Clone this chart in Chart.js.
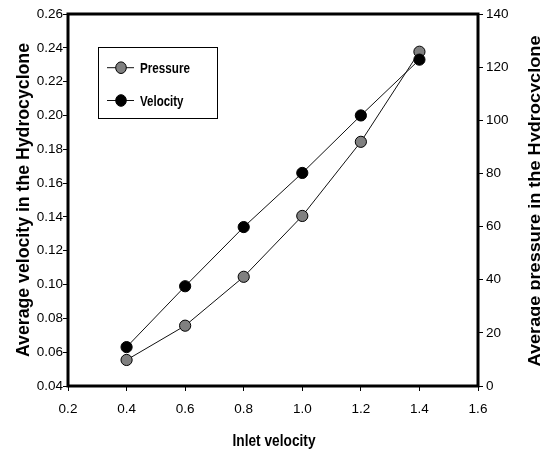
<!DOCTYPE html>
<html><head><meta charset="utf-8">
<script src="https://cdn.jsdelivr.net/npm/chart.js@4"></script>
<style>html,body{margin:0;padding:0;background:#fff}#wrap{width:540px;height:452px}</style>
</head><body><div id="wrap"><canvas id="c" width="540" height="452"></canvas></div>
<script>
const inletVelocity = [0.4, 0.6, 0.8, 1.0, 1.2, 1.4];
const pressureValues = [9.8, 22.7, 41.1, 64.0, 91.9, 125.8];
const velocityValues = [0.063, 0.099, 0.134, 0.166, 0.200, 0.233];
const seriesNames = ['Pressure', 'Velocity'];
const xTitle = 'Inlet velocity';
const leftTitle = 'Average velocity in the Hydrocyclone';
const rightTitle = 'Average pressure in the Hydrocyclone';

const FONT = '"Liberation Sans", Arial, sans-serif';

function pts(xs, ys) { return xs.map((x, i) => ({ x: x, y: ys[i] })); }

function drawScaledText(ctx, text, x, y, size, targetW, align) {
  ctx.save();
  ctx.font = 'bold ' + size + 'px ' + FONT;
  const w = ctx.measureText(text).width;
  const sx = targetW ? targetW / w : 1;
  ctx.translate(x, y);
  ctx.scale(sx, 1);
  ctx.textAlign = align || 'left';
  ctx.textBaseline = 'alphabetic';
  ctx.fillStyle = '#000';
  ctx.fillText(text, 0, 0);
  ctx.restore();
}

const decor = {
  id: 'decor',
  afterDraw(chart) {
    const ctx = chart.ctx;
    const a = chart.chartArea;
    ctx.save();
    ctx.strokeStyle = '#000';
    ctx.lineWidth = 3;
    ctx.strokeRect(a.left, a.top, a.right - a.left, a.bottom - a.top);
    ctx.restore();
    const cy = (a.top + a.bottom) / 2;
    drawScaledText(ctx, xTitle, (a.left + a.right) / 2 + 1, 445.5, 17, 83, 'center');
    ctx.save();
    ctx.translate(28.5, cy);
    ctx.rotate(-Math.PI / 2);
    drawScaledText(ctx, leftTitle, 0, 0, 18, 314, 'center');
    ctx.restore();
    ctx.save();
    ctx.translate(539.5, cy + 1);
    ctx.rotate(-Math.PI / 2);
    drawScaledText(ctx, rightTitle, 0, 0, 16.5, 331, 'center');
    ctx.restore();
    ctx.save();
    ctx.strokeStyle = '#000';
    ctx.lineWidth = 1;
    ctx.strokeRect(98.5, 47.5, 119, 71);
    const rows = [67.7, 100.5];
    chart.data.datasets.forEach((ds, i) => {
      const y = rows[i];
      ctx.beginPath();
      ctx.moveTo(107, y); ctx.lineTo(134, y);
      ctx.strokeStyle = ds.borderColor; ctx.lineWidth = 1; ctx.stroke();
      ctx.beginPath();
      ctx.ellipse(121, y, 5.3, 5.8, 0, 0, Math.PI * 2);
      ctx.fillStyle = ds.pointBackgroundColor; ctx.fill();
      ctx.strokeStyle = ds.pointBorderColor; ctx.stroke();
      drawScaledText(ctx, ds.label, 140, y + 5, 15, i === 0 ? 50 : 43.5, 'left');
    });
    ctx.restore();
  }
};

const tickFont = { family: FONT, size: 13.5 };

new Chart(document.getElementById('c'), {
  type: 'line',
  data: {
    datasets: [
      {
        label: seriesNames[0],
        data: pts(inletVelocity, pressureValues),
        yAxisID: 'y1',
        borderColor: '#111',
        borderWidth: 1,
        pointBackgroundColor: '#808080',
        pointBorderColor: '#000',
        pointBorderWidth: 1,
        pointRadius: 5.6,
        tension: 0,
        order: 1
      },
      {
        label: seriesNames[1],
        data: pts(inletVelocity, velocityValues),
        yAxisID: 'y',
        borderColor: '#111',
        borderWidth: 1,
        pointBackgroundColor: '#000',
        pointBorderColor: '#000',
        pointBorderWidth: 1,
        pointRadius: 5.6,
        tension: 0,
        order: 0
      }
    ]
  },
  options: {
    responsive: false,
    animation: false,
    devicePixelRatio: 1,
    layout: { padding: { top: 14, left: 0, right: 0, bottom: 0 } },
    plugins: { legend: { display: false }, tooltip: { enabled: false } },
    scales: {
      x: {
        type: 'linear', position: 'bottom', min: 0.2, max: 1.6,
        ticks: { stepSize: 0.2, callback: v => v.toFixed(1), font: tickFont, color: '#000', padding: 10, maxRotation: 0 },
        grid: { drawOnChartArea: false, drawTicks: true, tickLength: 5, tickColor: '#000', tickWidth: 1 },
        border: { display: false },
        afterFit: s => { s.height = 66; }
      },
      y: {
        type: 'linear', position: 'left', min: 0.04, max: 0.26,
        ticks: { stepSize: 0.02, callback: v => v.toFixed(2), font: tickFont, color: '#000', padding: 0 },
        grid: { drawOnChartArea: false, drawTicks: true, tickLength: 5, tickColor: '#000', tickWidth: 1 },
        border: { display: false },
        afterFit: s => { s.width = 68; }
      },
      y1: {
        type: 'linear', position: 'right', min: 0, max: 140,
        ticks: { stepSize: 20, font: tickFont, color: '#000', padding: 3 },
        grid: { drawOnChartArea: false, drawTicks: true, tickLength: 5, tickColor: '#000', tickWidth: 1 },
        border: { display: false },
        afterFit: s => { s.width = 62; }
      }
    }
  },
  plugins: [decor]
});
</script></body></html>
